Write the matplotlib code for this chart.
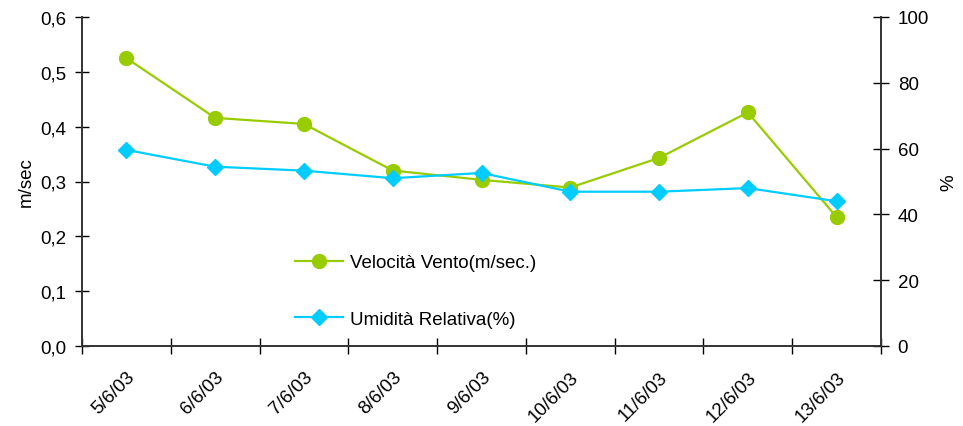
import matplotlib
matplotlib.use("Agg")
import matplotlib.pyplot as plt
from matplotlib.ticker import FuncFormatter, FixedLocator

plt.rcParams['font.family'] = ['Liberation Sans', 'DejaVu Sans']

dates = ["5/6/03", "6/6/03", "7/6/03", "8/6/03", "9/6/03",
         "10/6/03", "11/6/03", "12/6/03", "13/6/03"]
vento = [0.525, 0.416, 0.405, 0.320, 0.303, 0.289, 0.343, 0.426, 0.235]
umidita = [59.6, 54.5, 53.3, 51.0, 52.6, 46.9, 46.9, 48.0, 44.0]

green = "#99cc00"
blue = "#00ccff"
fs = 13.5

fig = plt.figure(figsize=(9.63, 4.27), dpi=100)
ax = fig.add_axes([82/963, 80/427, 799/963, 329/427])
ax2 = ax.twinx()

x = list(range(len(dates)))
l1, = ax.plot(x, vento, color=green, lw=1.6, marker="o", ms=10,
              label="Velocità Vento(m/sec.)", zorder=3)
l2, = ax2.plot(x, umidita, color=blue, lw=1.6, marker="D", ms=8,
               label="Umidità Relativa(%)", zorder=3)

ax.set_xlim(-0.5, len(dates) - 0.5)
ax.set_ylim(0, 0.6)
ax2.set_ylim(0, 100)
ax.set_yticks([0, 0.1, 0.2, 0.3, 0.4, 0.5, 0.6])
ax2.set_yticks([0, 20, 40, 60, 80, 100])
ax.yaxis.set_major_formatter(FuncFormatter(lambda v, p: f"{v:.1f}".replace(".", ",")))

ax.set_xticks(x)
ax.set_xticklabels(dates, rotation=45, ha="right", rotation_mode="anchor")
ax.xaxis.set_minor_locator(FixedLocator([i - 0.5 for i in range(len(dates) + 1)]))
ax.tick_params(axis="x", which="major", length=0, pad=16, labelsize=fs)
ax.tick_params(axis="x", which="minor", length=12, direction="inout", width=1)
ax.tick_params(axis="y", length=10, direction="inout", labelsize=fs, width=1, pad=6)
ax2.tick_params(axis="y", length=12, direction="inout", labelsize=fs, width=1, pad=6)

for a in (ax, ax2):
    a.spines["top"].set_visible(False)
    for s in ("left", "right", "bottom"):
        a.spines[s].set_color("#333333")
        a.spines[s].set_linewidth(1.2)

ax.set_ylabel("m/sec", fontsize=fs, labelpad=4)
ax2.set_ylabel("%", fontsize=fs, labelpad=8)

ax2.legend([l1, l2], [l1.get_label(), l2.get_label()], loc="upper left",
           bbox_to_anchor=(0.245, 0.33), frameon=False, fontsize=fs,
           labelspacing=2.1, handlelength=2.6, handletextpad=0.35)

fig.savefig("out.png", dpi=100)
